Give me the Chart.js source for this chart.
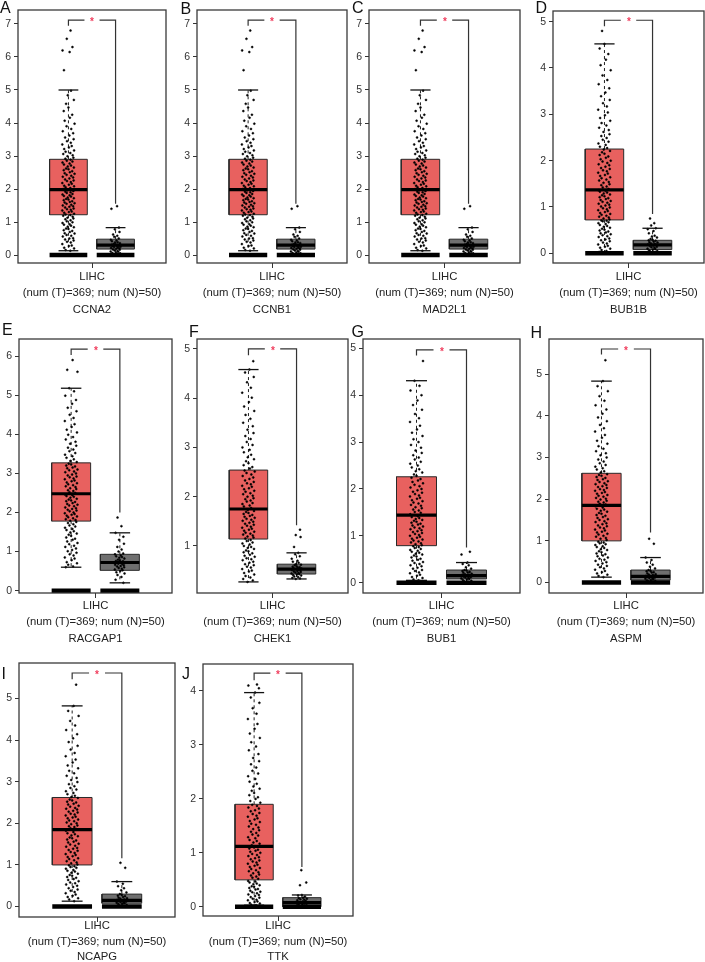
<!DOCTYPE html>
<html><head><meta charset="utf-8">
<script src="https://cdn.jsdelivr.net/npm/chart.js@4.4.1/dist/chart.umd.min.js"></script>
<style>
body{margin:0;background:#fff;width:705px;height:962px;position:relative;overflow:hidden;font-family:"Liberation Sans",Arial,sans-serif}
canvas{position:absolute}
.lbl{position:absolute;font-size:16px;line-height:16px;color:#111}
</style></head><body>
<script>
// ---------- DATA ----------
const panelLetters = ['A','B','C','D','E','F','G','H','I','J'];
const panelGenes = ['CCNA2','CCNB1','MAD2L1','BUB1B','RACGAP1','CHEK1','BUB1','ASPM','NCAPG','TTK'];
const xLabelLines = ['LIHC','(num (T)=369; num (N)=50)'];
// [lower whisker, Q1, median, Q3, upper whisker]
const tumorBoxes = [
  [0.13,1.22,1.98,2.9,5.0],[0.13,1.22,1.98,2.9,5.0],[0.13,1.22,1.98,2.9,5.0],
  [0.03,0.72,1.37,2.25,4.52],[0.6,1.78,2.48,3.27,5.18],[0.27,1.14,1.75,2.54,4.58],
  [0.05,0.79,1.44,2.26,4.31],[0.13,1.0,1.85,2.62,4.83],[0.13,1.0,1.85,2.62,4.82],
  [0.03,0.5,1.12,1.9,3.97]];
const normalBoxes = [
  [0.03,0.18,0.3,0.48,0.83],[0.03,0.18,0.3,0.48,0.83],[0.03,0.18,0.3,0.48,0.83],
  [0.0,0.08,0.18,0.28,0.54],[0.2,0.52,0.72,0.93,1.48],[0.33,0.43,0.53,0.63,0.86],
  [0.0,0.08,0.15,0.27,0.43],[0.0,0.06,0.15,0.3,0.6],[0.0,0.08,0.15,0.3,0.6],
  [0.0,0.0,0.08,0.17,0.22]];
// significance bracket: [top, left leg end, right leg end]
const brackets = [[7.12,6.95,1.55],[7.12,6.95,1.55],[7.12,6.95,1.55],[5.03,4.9,0.85],
  [6.18,6.03,2.0],[5.0,4.87,1.42],[4.97,4.85,0.75],[5.6,5.47,1.2],[5.61,5.46,1.16],[4.33,4.2,0.74]];
const yRanges = [[-0.242,7.424],[-0.242,7.424],[-0.242,7.424],[-0.21,5.23],[-0.06,6.44],
  [0.045,5.2],[-0.22,5.2],[-0.25,5.84],[-0.25,5.85],[-0.17,4.5]];
const yTickLabels = [[0,1,2,3,4,5,6,7],[0,1,2,3,4,5,6,7],[0,1,2,3,4,5,6,7],[0,1,2,3,4,5],
  [0,1,2,3,4,5,6],[1,2,3,4,5],[0,1,2,3,4,5],[0,1,2,3,4,5],[0,1,2,3,4,5],[0,1,2,3,4]];

const ccna2Tumor = [0,0,0,0.13,0.15,0.2,0.22,0.27,0.29,0.33,0.38,0.4,0.44,0.47,0.5,0.51,0.56,0.58,0.61,0.65,0.66,0.7,0.73,0.75,0.79,0.8,0.84,0.86,0.89,0.92,0.93,0.97,0.99,1.02,1.05,1.08,1.11,1.13,1.16,1.19,1.21,1.23,1.25,1.28,1.3,1.32,1.35,1.37,1.39,1.41,1.44,1.46,1.48,1.5,1.52,1.55,1.57,1.59,1.61,1.63,1.66,1.68,1.7,1.72,1.74,1.77,1.79,1.81,1.83,1.85,1.88,1.9,1.92,1.94,1.96,1.97,2.0,2.03,2.05,2.08,2.1,2.13,2.16,2.18,2.21,2.24,2.26,2.29,2.32,2.35,2.37,2.4,2.43,2.46,2.48,2.51,2.54,2.57,2.6,2.62,2.65,2.68,2.71,2.74,2.77,2.8,2.83,2.86,2.89,2.92,2.95,2.99,3.02,3.06,3.09,3.13,3.17,3.21,3.26,3.3,3.35,3.4,3.45,3.51,3.56,3.62,3.69,3.75,3.82,3.9,3.98,4.07,4.16,4.25,4.36,4.47,4.58,4.7,4.84,4.98,5.6,6.15,6.2,6.3,6.55,6.8];
const ccna2Normal = [0,0,0.01,0.02,0.03,0.05,0.06,0.07,0.1,0.11,0.12,0.14,0.16,0.17,0.19,0.2,0.21,0.23,0.24,0.25,0.27,0.28,0.29,0.31,0.32,0.33,0.36,0.38,0.39,0.42,0.44,0.46,0.5,0.55,0.58,0.62,0.7,0.78,0.83,1.4,1.48];
const ccnb1Tumor = [0,0,0,0.13,0.15,0.2,0.22,0.27,0.29,0.33,0.38,0.4,0.44,0.47,0.5,0.51,0.56,0.58,0.61,0.65,0.66,0.7,0.73,0.75,0.79,0.8,0.84,0.86,0.89,0.92,0.93,0.97,0.99,1.02,1.05,1.08,1.11,1.13,1.16,1.19,1.21,1.23,1.25,1.28,1.3,1.32,1.35,1.37,1.39,1.41,1.44,1.46,1.48,1.5,1.52,1.55,1.57,1.59,1.61,1.63,1.66,1.68,1.7,1.72,1.74,1.77,1.79,1.81,1.83,1.85,1.88,1.9,1.92,1.94,1.96,1.97,2.0,2.03,2.05,2.08,2.1,2.13,2.16,2.18,2.21,2.24,2.26,2.29,2.32,2.35,2.37,2.4,2.43,2.46,2.48,2.51,2.54,2.57,2.6,2.62,2.65,2.68,2.71,2.74,2.77,2.8,2.83,2.86,2.89,2.92,2.95,2.99,3.02,3.06,3.09,3.13,3.17,3.21,3.26,3.3,3.35,3.4,3.45,3.51,3.56,3.62,3.69,3.75,3.82,3.9,3.98,4.07,4.16,4.25,4.36,4.47,4.58,4.7,4.84,4.98,5.6,6.15,6.2,6.3,6.55,6.8];
const ccnb1Normal = [0,0,0.01,0.02,0.03,0.05,0.06,0.07,0.1,0.11,0.12,0.14,0.16,0.17,0.19,0.2,0.21,0.23,0.24,0.25,0.27,0.28,0.29,0.31,0.32,0.33,0.36,0.38,0.39,0.42,0.44,0.46,0.5,0.55,0.58,0.62,0.7,0.78,0.83,1.4,1.48];
const mad2l1Tumor = [0,0,0,0.13,0.15,0.2,0.22,0.27,0.29,0.33,0.38,0.4,0.44,0.47,0.5,0.51,0.56,0.58,0.61,0.65,0.66,0.7,0.73,0.75,0.79,0.8,0.84,0.86,0.89,0.92,0.93,0.97,0.99,1.02,1.05,1.08,1.11,1.13,1.16,1.19,1.21,1.23,1.25,1.28,1.3,1.32,1.35,1.37,1.39,1.41,1.44,1.46,1.48,1.5,1.52,1.55,1.57,1.59,1.61,1.63,1.66,1.68,1.7,1.72,1.74,1.77,1.79,1.81,1.83,1.85,1.88,1.9,1.92,1.94,1.96,1.97,2.0,2.03,2.05,2.08,2.1,2.13,2.16,2.18,2.21,2.24,2.26,2.29,2.32,2.35,2.37,2.4,2.43,2.46,2.48,2.51,2.54,2.57,2.6,2.62,2.65,2.68,2.71,2.74,2.77,2.8,2.83,2.86,2.89,2.92,2.95,2.99,3.02,3.06,3.09,3.13,3.17,3.21,3.26,3.3,3.35,3.4,3.45,3.51,3.56,3.62,3.69,3.75,3.82,3.9,3.98,4.07,4.16,4.25,4.36,4.47,4.58,4.7,4.84,4.98,5.6,6.15,6.2,6.3,6.55,6.8];
const mad2l1Normal = [0,0,0.01,0.02,0.03,0.05,0.06,0.07,0.1,0.11,0.12,0.14,0.16,0.17,0.19,0.2,0.21,0.23,0.24,0.25,0.27,0.28,0.29,0.31,0.32,0.33,0.36,0.38,0.39,0.42,0.44,0.46,0.5,0.55,0.58,0.62,0.7,0.78,0.83,1.4,1.48];
const bub1bTumor = [0,0,0.03,0.05,0.07,0.1,0.12,0.14,0.16,0.19,0.21,0.23,0.26,0.28,0.3,0.32,0.35,0.37,0.39,0.41,0.43,0.45,0.47,0.49,0.51,0.53,0.55,0.57,0.59,0.61,0.63,0.65,0.67,0.69,0.7,0.71,0.73,0.75,0.77,0.79,0.81,0.83,0.85,0.87,0.89,0.91,0.93,0.95,0.97,0.99,1.01,1.03,1.05,1.07,1.09,1.11,1.13,1.15,1.17,1.19,1.21,1.23,1.25,1.27,1.29,1.31,1.33,1.35,1.36,1.39,1.42,1.44,1.47,1.49,1.52,1.54,1.57,1.59,1.62,1.64,1.67,1.69,1.72,1.74,1.77,1.79,1.82,1.84,1.87,1.9,1.92,1.95,1.98,2.0,2.03,2.06,2.09,2.12,2.15,2.18,2.21,2.24,2.27,2.3,2.34,2.37,2.41,2.45,2.49,2.53,2.57,2.62,2.66,2.71,2.76,2.81,2.86,2.92,2.98,3.04,3.1,3.17,3.24,3.31,3.39,3.47,3.56,3.65,3.74,3.84,3.95,4.06,4.18,4.3,4.42,4.52,4.8];
const bub1bNormal = [0,0,0.01,0.02,0.04,0.05,0.06,0.08,0.09,0.1,0.12,0.13,0.14,0.16,0.17,0.18,0.19,0.2,0.21,0.23,0.24,0.25,0.27,0.28,0.29,0.31,0.34,0.36,0.38,0.43,0.48,0.52,0.54,0.6,0.65,0.75];
const racgap1Tumor = [0,0,0.6,0.62,0.66,0.7,0.73,0.78,0.82,0.85,0.9,0.93,0.97,1.01,1.04,1.08,1.12,1.15,1.19,1.22,1.26,1.3,1.33,1.36,1.4,1.43,1.46,1.49,1.52,1.55,1.58,1.61,1.64,1.67,1.7,1.73,1.76,1.79,1.81,1.83,1.85,1.88,1.9,1.92,1.94,1.96,1.98,2.0,2.03,2.05,2.07,2.09,2.11,2.13,2.16,2.18,2.2,2.22,2.24,2.27,2.29,2.31,2.33,2.35,2.38,2.4,2.42,2.44,2.46,2.5,2.52,2.55,2.57,2.6,2.62,2.65,2.67,2.7,2.72,2.75,2.77,2.8,2.82,2.85,2.87,2.9,2.92,2.95,2.97,3.0,3.03,3.05,3.08,3.1,3.13,3.15,3.18,3.2,3.23,3.25,3.29,3.32,3.36,3.4,3.44,3.48,3.52,3.57,3.61,3.66,3.71,3.76,3.81,3.87,3.93,3.99,4.05,4.12,4.19,4.26,4.34,4.42,4.5,4.59,4.68,4.78,4.88,4.99,5.1,5.18,5.6,5.65,5.9];
const racgap1Normal = [0,0.2,0.28,0.35,0.4,0.44,0.47,0.5,0.52,0.54,0.56,0.58,0.6,0.62,0.63,0.65,0.66,0.68,0.69,0.71,0.72,0.73,0.75,0.76,0.78,0.79,0.82,0.84,0.86,0.88,0.9,0.93,0.95,1.0,1.05,1.12,1.2,1.3,1.38,1.48,1.65,1.87];
const chek1Tumor = [0.27,0.3,0.33,0.36,0.39,0.42,0.45,0.48,0.5,0.53,0.56,0.58,0.61,0.63,0.66,0.68,0.71,0.73,0.75,0.78,0.8,0.82,0.85,0.87,0.89,0.91,0.94,0.96,0.98,1.0,1.03,1.05,1.07,1.1,1.12,1.15,1.17,1.19,1.21,1.23,1.25,1.27,1.29,1.31,1.33,1.35,1.37,1.39,1.41,1.43,1.45,1.47,1.49,1.51,1.53,1.55,1.57,1.59,1.61,1.63,1.65,1.67,1.69,1.71,1.73,1.77,1.8,1.82,1.85,1.87,1.9,1.92,1.95,1.97,2.0,2.02,2.05,2.07,2.1,2.12,2.15,2.17,2.2,2.22,2.25,2.27,2.3,2.33,2.36,2.39,2.42,2.45,2.48,2.51,2.53,2.57,2.6,2.64,2.68,2.72,2.76,2.8,2.85,2.9,2.95,3.0,3.05,3.11,3.17,3.23,3.29,3.36,3.43,3.5,3.58,3.66,3.74,3.83,3.92,4.01,4.11,4.21,4.32,4.43,4.52,4.58,4.75];
const chek1Normal = [0.33,0.34,0.35,0.37,0.38,0.4,0.41,0.42,0.43,0.44,0.45,0.46,0.47,0.48,0.49,0.5,0.51,0.52,0.53,0.54,0.55,0.56,0.57,0.58,0.59,0.61,0.62,0.63,0.66,0.68,0.7,0.74,0.79,0.83,0.86,0.98,1.18,1.22,1.33];
const bub1Tumor = [0,0,0,0.05,0.07,0.1,0.12,0.15,0.17,0.2,0.22,0.25,0.27,0.3,0.32,0.35,0.37,0.4,0.42,0.44,0.47,0.49,0.51,0.54,0.56,0.58,0.6,0.62,0.64,0.66,0.68,0.7,0.72,0.74,0.76,0.78,0.8,0.82,0.84,0.86,0.88,0.9,0.92,0.94,0.96,0.98,1.0,1.02,1.04,1.06,1.08,1.1,1.12,1.14,1.16,1.18,1.2,1.22,1.24,1.26,1.28,1.3,1.32,1.34,1.36,1.38,1.4,1.42,1.46,1.49,1.51,1.54,1.56,1.59,1.61,1.64,1.66,1.69,1.71,1.74,1.76,1.79,1.81,1.84,1.86,1.89,1.92,1.94,1.97,2.0,2.03,2.06,2.09,2.12,2.15,2.18,2.21,2.24,2.28,2.31,2.35,2.38,2.42,2.46,2.5,2.54,2.58,2.63,2.67,2.72,2.77,2.82,2.88,2.94,3.0,3.06,3.13,3.2,3.27,3.35,3.43,3.51,3.6,3.69,3.79,3.89,4.0,4.1,4.2,4.31,4.73];
const bub1Normal = [0,0,0.01,0.02,0.03,0.04,0.06,0.07,0.08,0.09,0.1,0.11,0.12,0.13,0.14,0.15,0.16,0.17,0.18,0.19,0.21,0.22,0.23,0.25,0.26,0.27,0.3,0.33,0.37,0.4,0.43,0.6,0.66];
const aspmTumor = [0,0,0,0.13,0.16,0.19,0.22,0.25,0.28,0.31,0.34,0.37,0.4,0.43,0.46,0.49,0.52,0.55,0.57,0.6,0.63,0.65,0.68,0.7,0.73,0.75,0.78,0.8,0.83,0.85,0.87,0.9,0.92,0.94,0.96,0.98,1.02,1.05,1.07,1.1,1.12,1.15,1.17,1.2,1.22,1.25,1.27,1.3,1.32,1.35,1.37,1.4,1.42,1.45,1.47,1.5,1.52,1.55,1.57,1.6,1.62,1.65,1.67,1.7,1.72,1.75,1.77,1.8,1.83,1.87,1.89,1.92,1.94,1.96,1.99,2.01,2.03,2.06,2.08,2.1,2.13,2.15,2.17,2.2,2.22,2.24,2.27,2.29,2.31,2.34,2.36,2.38,2.41,2.43,2.46,2.48,2.51,2.53,2.56,2.58,2.6,2.64,2.67,2.71,2.74,2.78,2.82,2.86,2.9,2.95,3.0,3.05,3.1,3.15,3.21,3.27,3.33,3.4,3.47,3.54,3.62,3.7,3.78,3.87,3.96,4.05,4.15,4.25,4.36,4.47,4.59,4.71,4.83,5.33];
const aspmNormal = [0,0,0.01,0.02,0.03,0.04,0.05,0.06,0.08,0.09,0.1,0.11,0.12,0.13,0.14,0.15,0.16,0.18,0.19,0.2,0.22,0.24,0.25,0.27,0.28,0.3,0.34,0.38,0.43,0.48,0.54,0.6,0.93,1.05];
const ncapgTumor = [0,0,0,0.13,0.17,0.2,0.23,0.26,0.29,0.32,0.35,0.38,0.41,0.44,0.47,0.5,0.53,0.56,0.58,0.61,0.64,0.66,0.69,0.71,0.74,0.76,0.79,0.81,0.84,0.86,0.88,0.91,0.93,0.95,0.97,0.99,1.01,1.04,1.06,1.09,1.11,1.14,1.16,1.19,1.21,1.24,1.26,1.29,1.31,1.34,1.36,1.39,1.41,1.44,1.46,1.49,1.51,1.54,1.56,1.59,1.61,1.64,1.66,1.69,1.71,1.74,1.76,1.79,1.82,1.86,1.88,1.91,1.93,1.95,1.98,2.0,2.02,2.05,2.07,2.09,2.12,2.14,2.16,2.19,2.21,2.23,2.26,2.28,2.3,2.33,2.35,2.37,2.4,2.42,2.45,2.47,2.5,2.52,2.55,2.57,2.61,2.63,2.66,2.7,2.73,2.77,2.81,2.85,2.89,2.94,2.99,3.04,3.09,3.14,3.2,3.26,3.32,3.39,3.46,3.53,3.61,3.69,3.77,3.86,3.95,4.04,4.14,4.24,4.35,4.46,4.58,4.7,4.82,5.33];
const ncapgNormal = [0,0,0.01,0.02,0.03,0.04,0.06,0.07,0.08,0.09,0.1,0.11,0.12,0.13,0.14,0.15,0.16,0.17,0.19,0.2,0.21,0.23,0.25,0.26,0.28,0.3,0.34,0.39,0.44,0.49,0.55,0.6,0.93,1.05];
const ttkTumor = [0,0,0,0.03,0.04,0.06,0.07,0.09,0.1,0.12,0.13,0.15,0.17,0.18,0.2,0.22,0.23,0.25,0.27,0.28,0.3,0.32,0.33,0.35,0.37,0.38,0.4,0.42,0.43,0.45,0.47,0.48,0.52,0.54,0.56,0.58,0.6,0.62,0.64,0.66,0.68,0.7,0.72,0.74,0.76,0.78,0.8,0.82,0.84,0.86,0.88,0.9,0.92,0.94,0.96,0.98,1.0,1.02,1.04,1.06,1.08,1.1,1.14,1.17,1.19,1.22,1.24,1.27,1.29,1.32,1.34,1.37,1.39,1.42,1.44,1.47,1.49,1.52,1.54,1.57,1.59,1.62,1.64,1.67,1.69,1.72,1.74,1.77,1.79,1.82,1.84,1.87,1.89,1.93,1.96,2.0,2.03,2.07,2.11,2.15,2.19,2.23,2.28,2.32,2.37,2.42,2.47,2.52,2.58,2.64,2.7,2.76,2.83,2.9,2.97,3.05,3.13,3.21,3.3,3.39,3.48,3.58,3.68,3.78,3.88,3.97,4.05,4.1,4.12];
const ttkNormal = [0,0,0,0.01,0.02,0.03,0.04,0.05,0.06,0.06,0.07,0.08,0.08,0.09,0.1,0.11,0.12,0.13,0.14,0.15,0.16,0.17,0.19,0.21,0.22,0.4,0.45,0.68];

const tumorPoints = [ccna2Tumor,ccnb1Tumor,mad2l1Tumor,bub1bTumor,racgap1Tumor,chek1Tumor,bub1Tumor,aspmTumor,ncapgTumor,ttkTumor];
const normalPoints = [ccna2Normal,ccnb1Normal,mad2l1Normal,bub1bNormal,racgap1Normal,chek1Normal,bub1Normal,aspmNormal,ncapgNormal,ttkNormal];

// ---------- LAYOUT / STYLE ----------
const panelRects = [[18,10,166,263],[197,10,347,263],[369,10,520,263],[553,11,704,263],
  [19,339,172,593],[197,339,348,593],[363,339,520,593],[549,339,703,593],
  [19,663,175,917],[203,664,353,916]];
const titleBoxH = [55,55,55,55,54,54,54,54,48,49];
const titleLineH = [16.5,16.5,16.5,16.5,16.5,16.5,16.5,16.5,15.5,15.5];
const letterPos = [[0,0],[180.5,0.5],[352,0],[535.5,0],[2,322],[189,324],[351.5,324],[530.5,324.5],[1.5,666],[182,666]];
const JITTER = [-0.02,0.09,-0.11,0.04,-0.06,0.12,-0.09,0.01,0.07,-0.13,0.05,-0.03,0.11,-0.07,0.02,0.1,-0.12,0.06,-0.04,0.13,-0.08,0.03,0.08,-0.1,0.0,-0.05,0.115,-0.015,0.055,-0.095,0.025,-0.125,0.085,-0.035,0.045,-0.065,0.105];
const TUMOR_FILL = '#E8615F', NORMAL_FILL = '#6F6F6F';
const FONT = '"Liberation Sans", Arial, sans-serif';
const YAXIS_W = 18, PAD_T = 10, PAD_R = 4;

function seg(pts, color, width, dash, order, clip) {
  const d = {type:'scatter', data: pts.map(p=>({x:p[0], y:p[1]})), showLine:true, fill:false,
    borderColor:color, borderWidth:width, borderDash:dash||[], pointRadius:0, pointHoverRadius:0,
    tension:0, order:order};
  if (clip !== undefined) d.clip = clip;
  return d;
}

const frame = {
  id:'frame',
  afterDatasetsDraw(chart) {
    const {ctx, chartArea:a} = chart;
    ctx.save();
    ctx.strokeStyle = '#3a3a3a'; ctx.lineWidth = 1.3;
    ctx.strokeRect(a.left, a.top, a.right - a.left, a.bottom - a.top);
    const i = chart.options.plugins.frame.idx;
    const x = chart.scales.x.getPixelForValue(1.5);
    const y = Math.round(chart.scales.y.getPixelForValue(brackets[i][0]));
    ctx.fillStyle = '#F03C5C';
    ctx.font = 'bold 10px ' + FONT;
    ctx.textAlign = 'center'; ctx.textBaseline = 'middle';
    ctx.fillText('*', Math.round(x), y + 2.5);
    ctx.restore();
  }
};

panelLetters.forEach((letter, i) => {
  const [L,T,R,B] = panelRects[i];
  const XH = titleBoxH[i];
  const W = R - L + YAXIS_W + PAD_R, H = B - T + PAD_T + XH;
  const cv = document.createElement('canvas');
  cv.width = W; cv.height = H;
  cv.style.left = (L - YAXIS_W) + 'px'; cv.style.top = (T - PAD_T) + 'px';
  cv.style.width = W + 'px'; cv.style.height = H + 'px';
  document.body.appendChild(cv);

  const lb = document.createElement('div');
  lb.className = 'lbl'; lb.textContent = letter;
  lb.style.left = letterPos[i][0] + 'px'; lb.style.top = letterPos[i][1] + 'px';
  document.body.appendChild(lb);

  const ds = [];
  [[1, tumorBoxes[i], TUMOR_FILL, tumorPoints[i], 1], [2, normalBoxes[i], NORMAL_FILL, normalPoints[i], 0.8]].forEach(([c, b, col, pts, js]) => {
    const hw = 0.4, cw = 0.21;
    ds.push({type:'scatter', data:[{x:c-hw,y:b[1]},{x:c+hw,y:b[1]},{x:c+hw,y:b[3]},{x:c-hw,y:b[3]},{x:c-hw,y:b[1]}],
      showLine:true, fill:'shape', backgroundColor:col, borderColor:'#2a2a2a', borderWidth:1,
      pointRadius:0, pointHoverRadius:0, tension:0, order:7});
    ds.push(seg([[c,b[3]],[c,b[4]]], '#222', 1, [3,3], 6));
    ds.push(seg([[c,b[1]],[c,b[0]]], '#222', 1, [3,3], 6));
    ds.push(seg([[c-cw,b[4]],[c+cw,b[4]]], '#111', 1.3, [], 3));
    ds.push(seg([[c-cw,b[0]],[c+cw,b[0]]], '#111', 1.3, [], 3));
    ds.push(seg([[c-hw,0],[c+hw,0]], '#000', 4.5, [], 2, 0));
    ds.push(seg([[c-hw,b[2]],[c+hw,b[2]]], '#000', 3.2, [], 2));
    ds.push({type:'scatter', data: pts.map((v,k)=>({x: c + JITTER[k % JITTER.length]*js, y: v})),
      pointRadius:1.0, backgroundColor:'#000', borderColor:'#000', borderWidth:0.5, pointHoverRadius:0, order:4});
  });
  const br = brackets[i];
  ds.push(seg([[1,br[1]],[1,br[0]],[1.34,br[0]]], '#333', 1.2, [], 0));
  ds.push(seg([[1.66,br[0]],[2,br[0]],[2,br[2]]], '#333', 1.2, [], 0));

  new Chart(cv, {
    type:'scatter',
    data:{datasets: ds},
    options:{
      responsive:false, animation:false, events:[], devicePixelRatio:1,
      layout:{padding:{top:PAD_T, right:PAD_R, left:0, bottom:0}},
      plugins:{legend:{display:false}, tooltip:{enabled:false}, frame:{idx:i}},
      scales:{
        x:{type:'linear', min:-0.07, max:3.07,
          afterBuildTicks:s=>{s.ticks=[{value:1.5}];},
          afterFit:s=>{s.height=XH;},
          ticks:{callback:()=>'', font:{size:1}},
          grid:{drawOnChartArea:false, drawTicks:true, tickLength:5, color:'#333', lineWidth:1},
          border:{display:false},
          title:{display:true, text:[...xLabelLines, panelGenes[i]], color:'#222',
            font:{family:FONT, size:11.3, lineHeight:titleLineH[i] + 'px'}, padding:{top:0, bottom:0}}},
        y:{type:'linear', min:yRanges[i][0], max:yRanges[i][1],
          afterBuildTicks:s=>{s.ticks=yTickLabels[i].map(v=>({value:v}));},
          afterFit:s=>{s.width=YAXIS_W;},
          ticks:{color:'#333', padding:3, font:{family:FONT, size:10.5}, callback:v=>String(v)},
          grid:{drawOnChartArea:false, drawTicks:true, tickLength:4, color:'#333', lineWidth:1},
          border:{display:false}}
      }
    },
    plugins:[frame]
  });
});
</script>
</body></html>
